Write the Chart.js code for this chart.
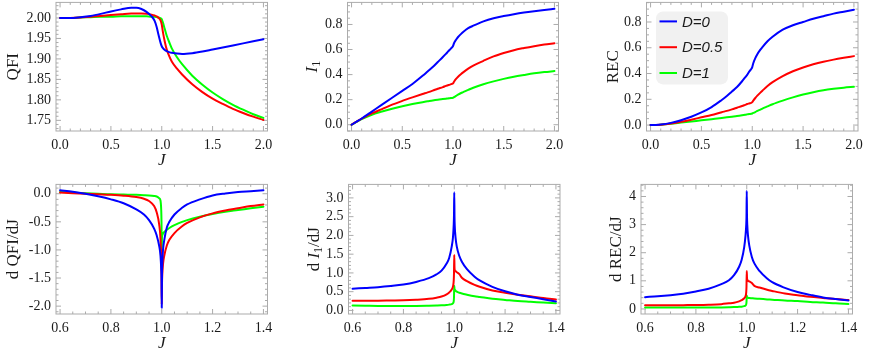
<!DOCTYPE html>
<html>
<head>
<meta charset="utf-8">
<script src="https://cdn.jsdelivr.net/npm/chart.js@4/dist/chart.umd.min.js"></script>
<style>
  body { margin: 0; width: 872px; height: 355px; overflow: hidden; background: #fff; position: relative; }
  .panel { position: absolute; }
</style>
</head>
<body>
<script>
// ---- data ----
const seriesLabels = ['D=0', 'D=0.5', 'D=1'];
const seriesColors = ['#0000ff', '#ff0000', '#00ff00'];

// top row, J from 0 to 2
const jTop = [0, 0.05, 0.1, 0.2, 0.3, 0.4, 0.5, 0.6, 0.7, 0.75, 0.8, 0.85, 0.9, 0.93, 0.95, 0.97, 0.99,
  1.0, 1.01, 1.03, 1.05, 1.08, 1.1, 1.15, 1.2, 1.3, 1.4, 1.5, 1.6, 1.7, 1.8, 1.9, 2.0];

const qfiD0 = [2.000, 2.000, 2.000, 2.002, 2.005, 2.010, 2.016, 2.021, 2.025, 2.025, 2.022, 2.015, 2.004, 1.993, 1.978, 1.957, 1.938,
  1.931, 1.927, 1.922, 1.919, 1.916, 1.915, 1.913, 1.912, 1.914, 1.918, 1.923, 1.928, 1.933, 1.938, 1.943, 1.948];
const qfiD05 = [2.000, 2.000, 2.000, 2.001, 2.003, 2.005, 2.007, 2.009, 2.011, 2.011, 2.011, 2.010, 2.008, 2.006, 2.004, 2.000, 1.993,
  1.984, 1.968, 1.942, 1.922, 1.903, 1.893, 1.876, 1.862, 1.838, 1.819, 1.803, 1.790, 1.778, 1.768, 1.759, 1.751];
const qfiD1 = [2.000, 2.000, 2.000, 2.001, 2.002, 2.003, 2.003, 2.004, 2.004, 2.004, 2.004, 2.004, 2.003, 2.003, 2.002, 2.001, 1.999,
  1.997, 1.990, 1.973, 1.956, 1.937, 1.925, 1.904, 1.887, 1.859, 1.837, 1.818, 1.802, 1.788, 1.776, 1.765, 1.756];

const l1D0 = [0, 0.025, 0.05, 0.105, 0.16, 0.215, 0.27, 0.325, 0.39, 0.425, 0.46, 0.5, 0.54, 0.565, 0.583, 0.6, 0.617,
  0.628, 0.65, 0.678, 0.7, 0.725, 0.74, 0.77, 0.79, 0.825, 0.85, 0.867, 0.882, 0.895, 0.906, 0.916, 0.925];
const l1D05 = [0, 0.025, 0.048, 0.09, 0.125, 0.16, 0.19, 0.218, 0.245, 0.258, 0.272, 0.287, 0.3, 0.31, 0.315, 0.32, 0.326,
  0.33, 0.343, 0.365, 0.383, 0.405, 0.418, 0.447, 0.472, 0.51, 0.545, 0.572, 0.595, 0.612, 0.627, 0.64, 0.65];
const l1D1 = [0, 0.023, 0.045, 0.08, 0.105, 0.128, 0.148, 0.165, 0.18, 0.187, 0.194, 0.2, 0.205, 0.208, 0.21, 0.212, 0.214,
  0.215, 0.22, 0.23, 0.24, 0.253, 0.26, 0.278, 0.295, 0.323, 0.346, 0.366, 0.383, 0.397, 0.41, 0.42, 0.428];

const recD0 = [0, 0.001, 0.004, 0.017, 0.038, 0.065, 0.098, 0.14, 0.195, 0.225, 0.26, 0.295, 0.34, 0.37, 0.39, 0.415, 0.435,
  0.45, 0.48, 0.52, 0.55, 0.585, 0.605, 0.65, 0.685, 0.74, 0.775, 0.8, 0.825, 0.845, 0.865, 0.88, 0.895];
const recD05 = [0, 0.001, 0.003, 0.012, 0.025, 0.042, 0.06, 0.078, 0.1, 0.11, 0.122, 0.135, 0.148, 0.157, 0.163, 0.168, 0.173,
  0.178, 0.19, 0.21, 0.228, 0.252, 0.267, 0.303, 0.333, 0.38, 0.418, 0.447, 0.472, 0.492, 0.508, 0.522, 0.535];
const recD1 = [0, 0.001, 0.003, 0.01, 0.019, 0.028, 0.037, 0.046, 0.055, 0.06, 0.065, 0.07, 0.076, 0.08, 0.083, 0.086, 0.088,
  0.09, 0.094, 0.101, 0.11, 0.12, 0.128, 0.145, 0.162, 0.19, 0.215, 0.237, 0.255, 0.27, 0.281, 0.29, 0.297];

// bottom row, J from 0.6 to 1.4
const jBot = [0.6, 0.65, 0.7, 0.75, 0.8, 0.85, 0.9, 0.93, 0.95, 0.97, 0.98, 0.99, 0.995, 0.998, 0.999,
  1.0, 1.001, 1.002, 1.005, 1.01, 1.02, 1.03, 1.05, 1.08, 1.1, 1.15, 1.2, 1.25, 1.3, 1.35, 1.4];

const dqfiD0 = [0.06, 0.035, 0.0, -0.045, -0.1, -0.17, -0.28, -0.37, -0.47, -0.62, -0.74, -0.93, -1.1, -1.35, -1.5,
  -2.03, -1.45, -1.25, -1.0, -0.82, -0.6, -0.5, -0.37, -0.25, -0.19, -0.1, -0.03, 0.005, 0.03, 0.045, 0.06];
const dqfiD05 = [0.02, 0.01, 0.0, -0.01, -0.02, -0.035, -0.06, -0.09, -0.13, -0.22, -0.33, -0.55, -0.8, -1.2, -1.45,
  -1.97, -1.6, -1.45, -1.25, -1.1, -0.92, -0.82, -0.7, -0.58, -0.52, -0.42, -0.35, -0.3, -0.26, -0.22, -0.19];
const dqfiD1 = [0.03, 0.02, 0.01, 0.0, -0.01, -0.015, -0.02, -0.025, -0.03, -0.04, -0.05, -0.08, -0.12, -0.3, -0.5,
  -1.02, -0.76, -0.74, -0.71, -0.68, -0.64, -0.61, -0.56, -0.5, -0.47, -0.41, -0.36, -0.32, -0.29, -0.26, -0.23];

const dl1D0 = [0.58, 0.6, 0.62, 0.65, 0.69, 0.76, 0.86, 0.96, 1.06, 1.25, 1.4, 1.7, 1.95, 2.3, 2.55,
  3.15, 2.5, 2.25, 1.95, 1.7, 1.45, 1.3, 1.1, 0.9, 0.8, 0.63, 0.51, 0.42, 0.36, 0.3, 0.24];
const dl1D05 = [0.26, 0.26, 0.26, 0.265, 0.27, 0.285, 0.31, 0.34, 0.37, 0.43, 0.48, 0.56, 0.64, 0.8, 1.0,
  1.48, 1.15, 1.08, 1.05, 1.02, 0.97, 0.87, 0.78, 0.68, 0.63, 0.53, 0.47, 0.42, 0.38, 0.33, 0.29];
const dl1D1 = [0.13, 0.125, 0.12, 0.12, 0.12, 0.12, 0.125, 0.13, 0.135, 0.145, 0.155, 0.17, 0.19, 0.25, 0.35,
  0.66, 0.58, 0.56, 0.53, 0.5, 0.47, 0.45, 0.42, 0.38, 0.36, 0.31, 0.28, 0.25, 0.23, 0.21, 0.19];

const drecD0 = [0.42, 0.45, 0.49, 0.54, 0.62, 0.72, 0.88, 1.02, 1.2, 1.5, 1.75, 2.2, 2.6, 3.0, 3.3,
  4.2, 3.3, 3.0, 2.6, 2.25, 1.85, 1.62, 1.35, 1.08, 0.95, 0.75, 0.6, 0.5, 0.41, 0.35, 0.3];
const drecD05 = [0.13, 0.13, 0.13, 0.135, 0.14, 0.15, 0.17, 0.2, 0.22, 0.27, 0.31, 0.38, 0.45, 0.6, 0.8,
  1.35, 1.1, 1.05, 1.0, 0.98, 0.92, 0.82, 0.76, 0.68, 0.64, 0.55, 0.49, 0.43, 0.39, 0.35, 0.32];
const drecD1 = [0.05, 0.05, 0.05, 0.05, 0.05, 0.052, 0.055, 0.06, 0.065, 0.075, 0.08, 0.1, 0.12, 0.17, 0.25,
  0.48, 0.42, 0.41, 0.4, 0.39, 0.38, 0.37, 0.36, 0.34, 0.33, 0.3, 0.28, 0.25, 0.23, 0.2, 0.18];

// tick labels
const topTicksX = [0, 0.5, 1.0, 1.5, 2.0];
const botTicksX = [0.6, 0.8, 1.0, 1.2, 1.4];
const qfiTicks = [1.75, 1.8, 1.85, 1.9, 1.95, 2.0];
const l1Ticks = [0, 0.2, 0.4, 0.6, 0.8];
const recTicks = [0, 0.2, 0.4, 0.6, 0.8];
const dqfiTicks = [-2, -1.5, -1, -0.5, 0];
const dl1Ticks = [0, 0.5, 1, 1.5, 2, 2.5, 3];
const drecTicks = [0, 1, 2, 3, 4];

// ---- layout ----
const SERIF = "'Liberation Serif', 'Times New Roman', serif";
const SANS = "'Liberation Sans', Arial, sans-serif";
const FRAME = '#ababab';
const TEXT = '#1a1a1a';

const panels = [
  { frame: [56, 1, 267.5, 131], x: jTop, ys: [qfiD0, qfiD05, qfiD1], xr: [-0.04, 2.04], yr: [1.724, 2.038],
    xt: topTicksX, yt: qfiTicks, xMinor: 0.1, yMinor: 0.01, xDec: 1, yDec: 2,
    title: [['QFI', 'n']], titleOff: 44 },
  { frame: [347.5, 1, 558.5, 131], x: jTop, ys: [l1D0, l1D05, l1D1], xr: [-0.04, 2.04], yr: [-0.05, 0.976],
    xt: topTicksX, yt: l1Ticks, xMinor: 0.1, yMinor: 0.05, xDec: 1, yDec: 1,
    title: [['I', 'i'], ['1', 'sub']], titleOff: 37 },
  { frame: [646.5, 1, 858, 131], x: jTop, ys: [recD0, recD05, recD1], xr: [-0.04, 2.04], yr: [-0.046, 0.952],
    xt: topTicksX, yt: recTicks, xMinor: 0.1, yMinor: 0.05, xDec: 1, yDec: 1,
    title: [['REC', 'n']], titleOff: 35, legend: true },
  { frame: [56, 183, 267.5, 314], x: jBot, ys: [dqfiD0, dqfiD05, dqfiD1], xr: [0.584, 1.416], yr: [-2.14, 0.166],
    xt: botTicksX, yt: dqfiTicks, xMinor: 0.05, yMinor: 0.1, xDec: 1, yDec: 1,
    title: [['d QFI/dJ', 'n']], titleOff: 44 },
  { frame: [348.5, 183, 560, 314], x: jBot, ys: [dl1D0, dl1D05, dl1D1], xr: [0.584, 1.416], yr: [-0.095, 3.36],
    xt: botTicksX, yt: dl1Ticks, xMinor: 0.05, yMinor: 0.1, xDec: 1, yDec: 1,
    title: [['d ', 'n'], ['I', 'i'], ['1', 'sub'], ['/dJ', 'n']], titleOff: 35.5 },
  { frame: [641, 183, 852.5, 314], x: jBot, ys: [drecD0, drecD05, drecD1], xr: [0.584, 1.416], yr: [-0.18, 4.43],
    xt: botTicksX, yt: drecTicks, xMinor: 0.05, yMinor: 0.2, xDec: 1, yDec: 0,
    title: [['d REC/dJ', 'n']], titleOff: 26 }
];

// frame with inward ticks on all four sides
const frameTicks = {
  id: 'frameTicks',
  beforeDatasetsDraw(chart, args, opts) {
    const { ctx, chartArea: a, scales } = chart;
    ctx.save();
    ctx.strokeStyle = FRAME;
    ctx.lineWidth = 1;
    ctx.strokeRect(a.left, a.top, a.right - a.left, a.bottom - a.top);
    ctx.beginPath();
    const marks = (scale, step, horizontal) => {
      const majors = scale.ticks.map(t => t.value);
      const start = Math.ceil((scale.min - 1e-9) / step) * step;
      for (let v = start; v <= scale.max + 1e-9; v += step) {
        const isMajor = majors.some(m => Math.abs(m - v) < step / 10);
        const len = isMajor ? 5 : 2.5;
        const p = scale.getPixelForValue(v);
        if (horizontal) {
          ctx.moveTo(p, a.bottom); ctx.lineTo(p, a.bottom - len);
          ctx.moveTo(p, a.top); ctx.lineTo(p, a.top + len);
        } else {
          ctx.moveTo(a.left, p); ctx.lineTo(a.left + len, p);
          ctx.moveTo(a.right, p); ctx.lineTo(a.right - len, p);
        }
      }
    };
    marks(scales.x, opts.xMinor, true);
    marks(scales.y, opts.yMinor, false);
    ctx.stroke();
    ctx.restore();
  }
};

// axis titles, the y one may mix italic and subscript pieces
const axisTitles = {
  id: 'axisTitles',
  afterDraw(chart, args, opts) {
    const { ctx, chartArea: a } = chart;
    ctx.save();
    ctx.fillStyle = TEXT;
    ctx.textBaseline = 'alphabetic';
    ctx.textAlign = 'center';
    ctx.font = `italic 17px ${SERIF}`;
    ctx.fillText('J', (a.left + a.right) / 2, a.bottom + 34);

    const fontFor = kind => kind === 'i' ? `italic 17px ${SERIF}` : kind === 'sub' ? `12px ${SERIF}` : `17px ${SERIF}`;
    let total = 0;
    for (const [txt, kind] of opts.parts) { ctx.font = fontFor(kind); total += ctx.measureText(txt).width; }
    ctx.translate(a.left - opts.offset, (a.top + a.bottom) / 2);
    ctx.rotate(-Math.PI / 2);
    ctx.textAlign = 'left';
    let x = -total / 2;
    for (const [txt, kind] of opts.parts) {
      ctx.font = fontFor(kind);
      ctx.fillText(txt, x, kind === 'sub' ? 9 : 6);
      x += ctx.measureText(txt).width;
    }
    ctx.restore();
  }
};

// legend in a rounded grey box inside the chart area
const legendBox = {
  id: 'legendBox',
  afterDatasetsDraw(chart, args, opts) {
    if (!opts.show) return;
    const { ctx, chartArea: a } = chart;
    const bx = a.left + 9.5, by = a.top + 9, bw = 72, bh = 73;
    ctx.save();
    ctx.fillStyle = '#f1f1f1';
    ctx.beginPath();
    ctx.roundRect(bx, by, bw, bh, 7);
    ctx.fill();
    ctx.font = `italic 15px ${SANS}`;
    ctx.textBaseline = 'middle';
    chart.data.datasets.forEach((ds, i) => {
      const y = by + 10 + i * 25.8;
      ctx.strokeStyle = ds.borderColor;
      ctx.lineWidth = 2;
      ctx.beginPath();
      ctx.moveTo(bx + 3.5, y); ctx.lineTo(bx + 21, y);
      ctx.stroke();
      ctx.fillStyle = TEXT;
      ctx.fillText(ds.label, bx + 26, y + 1);
    });
    ctx.restore();
  }
};

panels.forEach(p => {
  const [l, t, r, b] = p.frame;
  const cl = Math.floor(l) - 62, ct = Math.floor(t) - 12;
  const cw = Math.ceil(r) + 16 - cl, ch = Math.ceil(b) + 44 - ct;

  const box = document.createElement('div');
  box.className = 'panel';
  box.style.left = cl + 'px';
  box.style.top = ct + 'px';
  const canvas = document.createElement('canvas');
  canvas.width = cw; canvas.height = ch;
  canvas.style.width = cw + 'px'; canvas.style.height = ch + 'px';
  box.appendChild(canvas);
  document.body.appendChild(box);

  const datasets = p.ys.map((ys, i) => ({
    label: seriesLabels[i],
    data: p.x.map((x, k) => ({ x, y: ys[k] })),
    borderColor: seriesColors[i],
    borderWidth: 2,
    pointRadius: 0,
    fill: false,
    cubicInterpolationMode: 'monotone',
    borderJoinStyle: 'round',
    borderCapStyle: 'round'
  }));

  const tickFont = { family: SERIF, size: 14 };
  new Chart(canvas, {
    type: 'line',
    data: { datasets },
    plugins: [frameTicks, axisTitles, legendBox],
    options: {
      responsive: false,
      devicePixelRatio: 1,
      animation: false,
      events: [],
      layout: { padding: { top: t - ct, right: cw - (r - cl), left: 0, bottom: 0 } },
      plugins: {
        legend: { display: false },
        tooltip: { enabled: false },
        frameTicks: { xMinor: p.xMinor, yMinor: p.yMinor },
        axisTitles: { parts: p.title, offset: p.titleOff },
        legendBox: { show: !!p.legend }
      },
      scales: {
        x: {
          type: 'linear', min: p.xr[0], max: p.xr[1],
          grid: { display: false, drawTicks: false }, border: { display: false },
          afterBuildTicks: s => { s.ticks = p.xt.map(v => ({ value: v })); },
          afterFit: s => { s.height = ch - (b - ct); },
          ticks: { font: tickFont, color: TEXT, padding: 6, maxRotation: 0, autoSkip: false,
            callback: v => v.toFixed(p.xDec) }
        },
        y: {
          type: 'linear', min: p.yr[0], max: p.yr[1],
          grid: { display: false, drawTicks: false }, border: { display: false },
          afterBuildTicks: s => { s.ticks = p.yt.map(v => ({ value: v })); },
          afterFit: s => { s.width = l - cl; },
          ticks: { font: tickFont, color: TEXT, padding: 5, autoSkip: false,
            callback: v => v.toFixed(p.yDec) }
        }
      }
    }
  });
});
</script>
</body>
</html>
